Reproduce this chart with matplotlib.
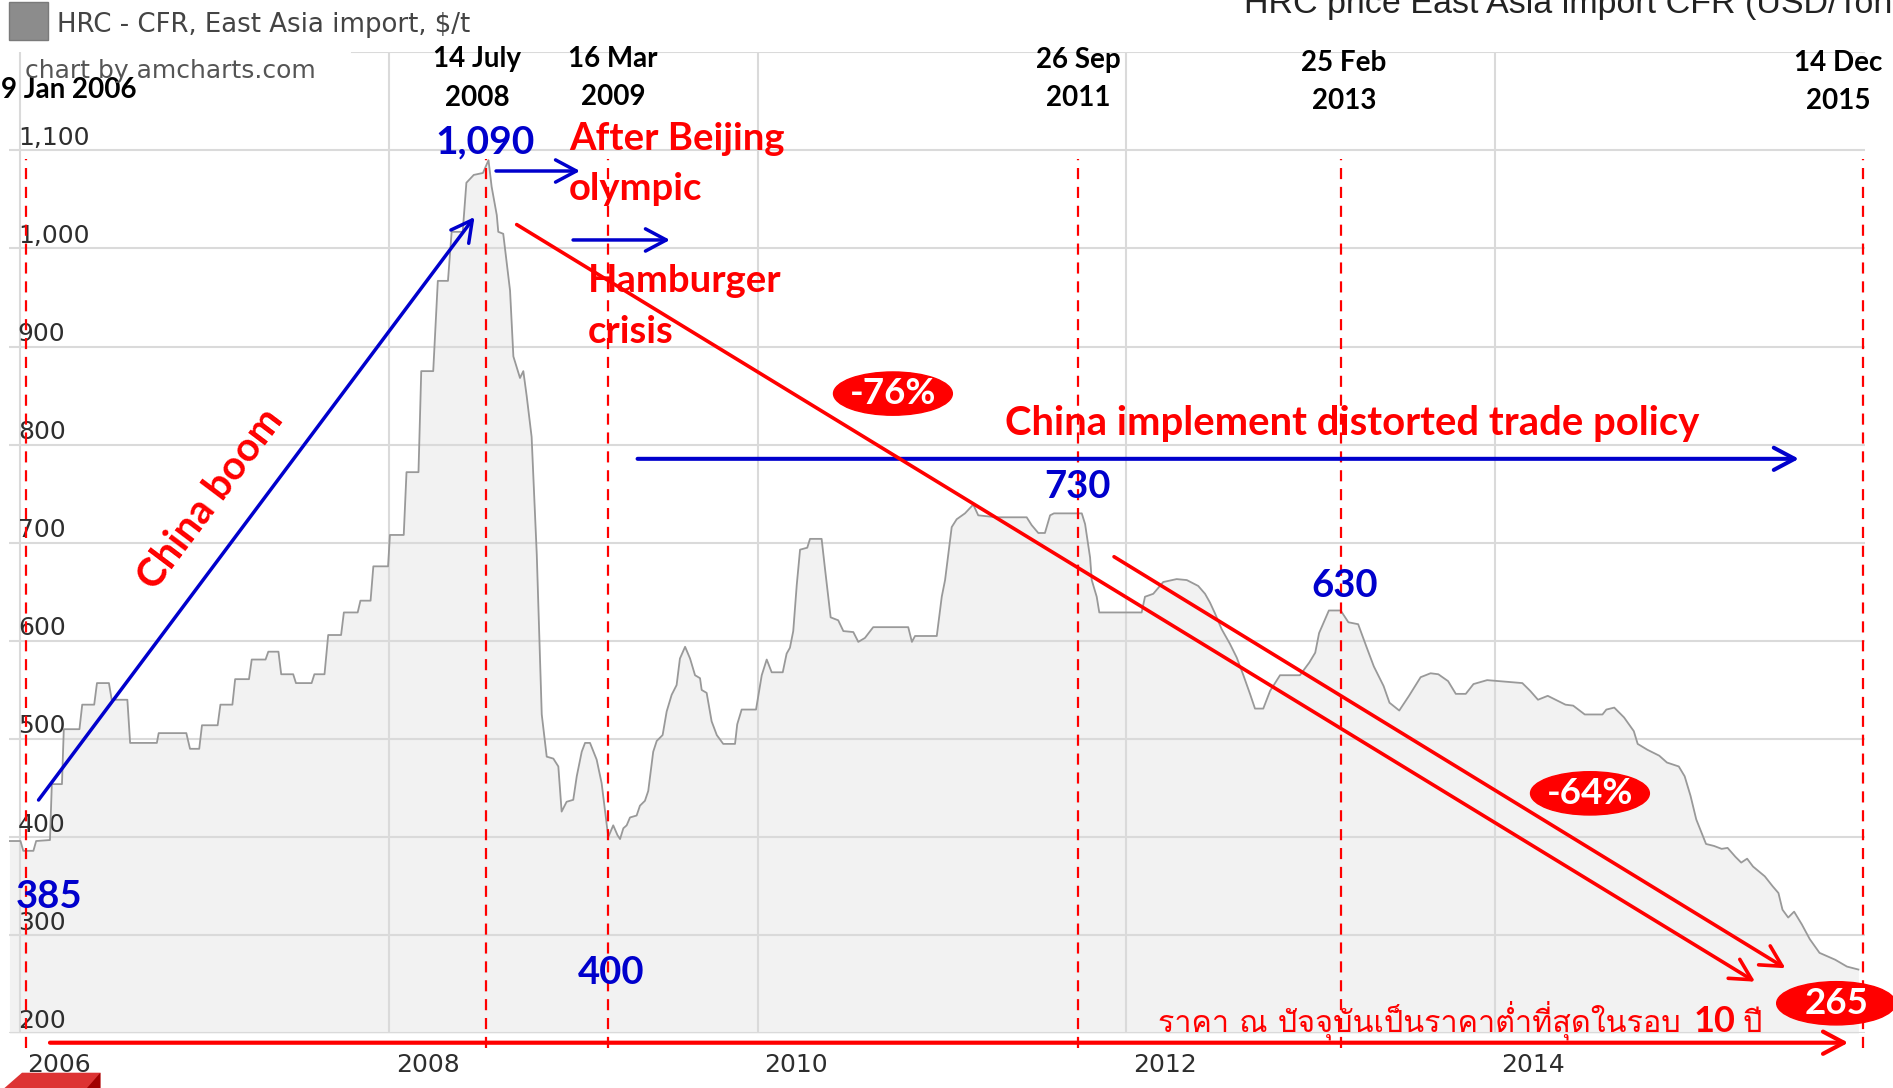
import matplotlib
matplotlib.use("Agg")
import matplotlib.pyplot as plt
from matplotlib import font_manager, transforms
from matplotlib.ft2font import FT2Font
from matplotlib.patches import Ellipse, Rectangle, Polygon

# HRC - CFR East Asia import price (decimal year, USD/t)
dates = [
    2005.94, 2006.00, 2006.015, 2006.07, 2006.085, 2006.16, 2006.17, 2006.225, 2006.235, 2006.32,
    2006.335, 2006.40, 2006.415, 2006.48, 2006.495, 2006.58, 2006.595, 2006.74, 2006.75, 2006.90,
    2006.92, 2006.97, 2006.985, 2007.07, 2007.085, 2007.15, 2007.165, 2007.24, 2007.255, 2007.33,
    2007.345, 2007.40, 2007.415, 2007.48, 2007.495, 2007.58, 2007.595, 2007.65, 2007.67, 2007.74,
    2007.755, 2007.83, 2007.845, 2007.90, 2007.915, 2007.995, 2008.005, 2008.08, 2008.095, 2008.16,
    2008.175, 2008.24, 2008.265, 2008.32, 2008.34, 2008.40, 2008.42, 2008.46, 2008.51, 2008.54,
    2008.557, 2008.585, 2008.593, 2008.62, 2008.657, 2008.675, 2008.711, 2008.729, 2008.747, 2008.774,
    2008.802, 2008.829, 2008.856, 2008.892, 2008.919, 2008.937, 2008.964, 2009.0, 2009.019, 2009.046,
    2009.064, 2009.091, 2009.127, 2009.154, 2009.19, 2009.217, 2009.24, 2009.254, 2009.272, 2009.29,
    2009.308, 2009.344, 2009.362, 2009.389, 2009.407, 2009.434, 2009.453, 2009.485, 2009.507, 2009.534,
    2009.561, 2009.579, 2009.607, 2009.634, 2009.661, 2009.688, 2009.697, 2009.724, 2009.751, 2009.779,
    2009.814, 2009.878, 2009.89, 2009.914, 2009.992, 2010.023, 2010.05, 2010.077, 2010.137, 2010.158,
    2010.176, 2010.194, 2010.213, 2010.231, 2010.27, 2010.285, 2010.348, 2010.366, 2010.397, 2010.438,
    2010.466, 2010.52, 2010.547, 2010.583, 2010.628, 2010.818, 2010.838, 2010.855, 2010.973, 2011.0,
    2011.018, 2011.036, 2011.054, 2011.081, 2011.126, 2011.171, 2011.198, 2011.298, 2011.461, 2011.488,
    2011.524, 2011.56, 2011.588, 2011.609, 2011.76, 2011.778, 2011.805, 2011.814, 2011.841, 2011.855,
    2012.085, 2012.103, 2012.148, 2012.202, 2012.275, 2012.33, 2012.392, 2012.429, 2012.456, 2012.483,
    2012.519, 2012.564, 2012.601, 2012.637, 2012.673, 2012.7, 2012.745, 2012.782, 2012.836, 2012.944,
    2012.995, 2013.027, 2013.048, 2013.101, 2013.165, 2013.207, 2013.26, 2013.303, 2013.345, 2013.398,
    2013.43, 2013.483, 2013.536, 2013.599, 2013.653, 2013.695, 2013.748, 2013.79, 2013.844, 2013.886,
    2013.96, 2014.024, 2014.151, 2014.194, 2014.236, 2014.289, 2014.332, 2014.385, 2014.427, 2014.49,
    2014.586, 2014.607, 2014.65, 2014.703, 2014.756, 2014.777, 2014.83, 2014.894, 2014.936, 2015.0,
    2015.032, 2015.064, 2015.095, 2015.148, 2015.191, 2015.233, 2015.265, 2015.307, 2015.339, 2015.371,
    2015.403, 2015.467, 2015.509, 2015.541, 2015.563, 2015.594, 2015.626, 2015.668, 2015.711, 2015.764,
    2015.849, 2015.913, 2015.975]
prices = [
    396, 396, 386, 386, 396, 397, 454, 454, 510, 510,
    535, 535, 557, 557, 540, 540, 496, 496, 506, 506,
    490, 490, 514, 514, 535, 535, 561, 561, 581, 581,
    589, 589, 566, 566, 557, 557, 566, 566, 606, 606,
    629, 629, 641, 641, 676, 676, 708, 708, 772, 772,
    875, 875, 967, 967, 1017, 1017, 1067, 1075, 1077, 1090,
    1063, 1034, 1017, 1015, 957, 890, 868, 875, 850, 808,
    688, 525, 482, 480, 472, 426, 436, 438, 462, 487,
    496, 496, 479, 455, 400, 412, 402, 398, 409, 412,
    420, 422, 432, 437, 447, 487, 498, 504, 528, 545,
    555, 582, 594, 582, 565, 562, 550, 547, 518, 504,
    495, 495, 515, 530, 530, 565, 581, 568, 568, 587,
    593, 610, 657, 693, 695, 704, 704, 674, 624, 621,
    610, 609, 599, 603, 614, 614, 599, 605, 605, 645,
    662, 689, 716, 724, 730, 739, 728, 726, 726, 718,
    710, 710, 728, 730, 730, 719, 685, 662, 645, 629,
    629, 645, 648, 660, 663, 662, 656, 648, 639, 628,
    612, 597, 583, 565, 546, 531, 531, 549, 565, 565,
    578, 588, 608, 631, 631, 619, 617, 595, 574, 554,
    537, 529, 544, 563, 567, 566, 559, 546, 546, 556,
    560, 559, 557, 549, 540, 544, 540, 535, 534, 525,
    525, 530, 532, 522, 508, 495, 489, 483, 476, 472,
    462, 442, 418, 393, 391, 388, 389, 380, 374, 378,
    370, 360, 350, 343, 326, 318, 324, 311, 296, 282,
    275, 268, 265]

year_ticks = [2006, 2008, 2010, 2012, 2014]
year_labels = ["2006", "2008", "2010", "2012", "2014"]
price_ticks = [200, 300, 400, 500, 600, 700, 800, 900, 1000, 1100]
price_labels = ["200", "300", "400", "500", "600", "700", "800", "900", "1,000", "1,100"]

# marked dates: dashed line position and label position
event_x = [2006.03, 2008.525, 2009.19, 2011.74, 2013.165, 2016.0]
event_label_x = [2005.894, 2008.478, 2009.216, 2011.739, 2013.183, 2015.864]
event_label_y = [1161.5, 1173.3, 1173.8, 1172.8, 1169.7, 1169.7]
event_labels = ["9 Jan 2006", "14 July\n2008", "16 Mar\n2009", "26 Sep\n2011",
                "25 Feb\n2013", "14 Dec\n2015"]

# price callouts
callout_text = ["385", "1,090", "400", "730", "630"]
callout_x = [2006.155, 2008.521, 2009.206, 2011.739, 2013.189]
callout_y = [339.2, 1108.6, 261.5, 756.4, 656.2]
callout_size = [27.5, 28, 27.5, 27.5, 27.5]

# red oval badges
badge_text = ["-76%", "-64%", "265"]
badge_x = [2010.735, 2014.518, 2015.854]
badge_y = [852.1, 444.6, 230.6]

RED = "#ff0000"
BLUE = "#0000cc"
BOLD = ["Lato", "DejaVu Sans"]


def find_thai_font():
    for f in font_manager.fontManager.ttflist:
        try:
            if 0x0E23 in FT2Font(f.fname).get_charmap():
                return f.name
        except Exception:
            continue
    return "DejaVu Sans"


THAI = [find_thai_font(), "DejaVu Sans"]

fig = plt.figure(figsize=(18.93, 10.88), dpi=100)
ax = fig.add_axes([0.004989, 0.05028, 0.98014, 0.90165])
ax.set_xlim(2005.94, 2016.01)
ax.set_ylim(200, 1200)
for s in ax.spines.values():
    s.set_visible(False)

ax.fill_between(dates, prices, 200, color="#f2f2f2", lw=0, zorder=1)
ax.plot(dates, prices, color="#999999", lw=1.3, zorder=2)

ax.set_xticks(year_ticks, year_labels)
ax.set_yticks(price_ticks, price_labels)
ax.set_axisbelow("line")
ax.grid(True, color="#dadada", lw=1.5)
ax.axhline(1200, xmin=0.1846, color="#dadada", lw=1.5, zorder=1.5)
ax.tick_params(axis="both", length=0, labelsize=18, labelcolor="#2e2e2e")
ax.tick_params(axis="y", pad=-6)
ax.tick_params(axis="x", pad=14)
for lab in ax.get_yticklabels():
    lab.set_ha("left")
    lab.set_transform(lab.get_transform() +
                      transforms.ScaledTranslation(0, 0.15, fig.dpi_scale_trans))
for lab in ax.get_xticklabels():
    lab.set_ha("left")
    lab.set_transform(lab.get_transform() +
                      transforms.ScaledTranslation(0.07, 0, fig.dpi_scale_trans))

# dashed event lines
ax.vlines(event_x, 184.7, 1091.7, colors=RED, lw=1.6,
          linestyles=(0, (5, 3.5)), zorder=4, clip_on=False)
for x, y, s in zip(event_label_x, event_label_y, event_labels):
    ax.text(x, y, s, ha="left" if x < 2006 else "center", va="center",
            fontsize=20, fontweight="bold", family=BOLD, color="black",
            linespacing=1.6)


def arrow(x0, y0, x1, y1, color, lw):
    ax.annotate("", xy=(x1, y1), xytext=(x0, y0), annotation_clip=False,
                arrowprops=dict(arrowstyle="->,head_length=0.75,head_width=0.4",
                                color=color, lw=lw, shrinkA=0, shrinkB=0,
                                mutation_scale=20), zorder=5)


arrow(2006.098, 437.8, 2008.464, 1032.1, BLUE, 2.5)
arrow(2008.581, 1079.0, 2009.037, 1079.0, BLUE, 2.5)
arrow(2008.999, 1008.7, 2009.525, 1008.7, BLUE, 2.5)
arrow(2009.349, 785.6, 2015.652, 785.6, BLUE, 2.9)
arrow(2008.693, 1024.4, 2015.414, 252.6, RED, 2.6)
arrow(2011.935, 685.8, 2015.579, 266.3, RED, 2.6)
arrow(2006.16, 190.4, 2015.92, 190.4, RED, 3.0)

ax.text(2007.034, 744.6, "China boom", rotation=53, rotation_mode="anchor",
        ha="center", va="center", fontsize=29, fontweight="bold", family=BOLD, color=RED)
ax.text(2008.977, 1086.1, "After Beijing\nolympic", ha="left", va="center",
        fontsize=27.5, fontweight="bold", family=BOLD, color=RED, linespacing=1.6)
ax.text(2009.08, 940.9, "Hamburger\ncrisis", ha="left", va="center",
        fontsize=27.5, fontweight="bold", family=BOLD, color=RED, linespacing=1.6)
ax.text(2013.225, 822.1, "China implement distorted trade policy", ha="center",
        va="center", fontsize=28.8, fontweight="bold", family=BOLD, color=RED)

for s, x, y, fs in zip(callout_text, callout_x, callout_y, callout_size):
    ax.text(x, y, s, ha="center", va="center", fontsize=fs, fontweight="bold",
            family=BOLD, color=BLUE, zorder=6)

for s, x, y in zip(badge_text, badge_x, badge_y):
    ax.add_patch(Ellipse((x, y), width=0.645, height=44.1, color=RED,
                         clip_on=False, zorder=6))
    ax.text(x, y, s, ha="center", va="center", fontsize=26.5, fontweight="bold",
            family=BOLD, color="white", zorder=7)

# Thai note above the bottom arrow, with a bold "10"
t1 = ax.text(2012.175, 201.6, "ราคา ณ ปัจจุบันเป็นราคาต่ำที่สุดในรอบ", ha="left",
             va="baseline", fontsize=22, family=THAI, color=RED, zorder=6)
t2 = ax.annotate("10", xy=(1, 201.6), xycoords=(t1, "data"), xytext=(9, 0),
                 textcoords="offset points", ha="left", va="baseline", fontsize=26,
                 fontweight="bold", family=BOLD, color=RED, zorder=6)
ax.annotate("ปี", xy=(1, 201.6), xycoords=(t2, "data"), xytext=(5, 0),
            textcoords="offset points", ha="left", va="baseline", fontsize=22,
            family=THAI, color=RED, zorder=6)

# legend, watermark and the cut-off title at the top
W, H = 1893, 1088
fig.add_artist(Rectangle((9 / W, 1 - 40 / H), 39 / W, 38 / H, transform=fig.transFigure,
                         facecolor="#8c8c8c", edgecolor="#7a7a7a", lw=1))
fig.text(57 / W, 1 - 31.7 / H, "HRC - CFR, East Asia import, $/t", fontsize=18.7,
         color="#444444", va="baseline", ha="left")
fig.text(25 / W, 1 - 78.3 / H, "chart by amcharts.com", fontsize=18,
         color="#555555", va="baseline", ha="left")
fig.text(1244 / W, 1 - 13 / H, "HRC price East Asia import CFR (USD/Tonne)",
         fontsize=24.5, family=["Liberation Sans", "DejaVu Sans"], color="#222222",
         va="baseline", ha="left")

# scrollbar grip at the bottom-left corner
fig.add_artist(Polygon([(4.5 / W, 0), (22 / W, 15.3 / H), (100.4 / W, 15.3 / H),
                        (100.4 / W, 0)], closed=True, transform=fig.transFigure,
                       facecolor="#dd3333", edgecolor="none"))
fig.add_artist(Polygon([(87 / W, 0), (100.4 / W, 15.3 / H), (100.4 / W, 0)],
                       closed=True, transform=fig.transFigure,
                       facecolor="#a00000", edgecolor="none"))

fig.savefig("out.png", dpi=100)
